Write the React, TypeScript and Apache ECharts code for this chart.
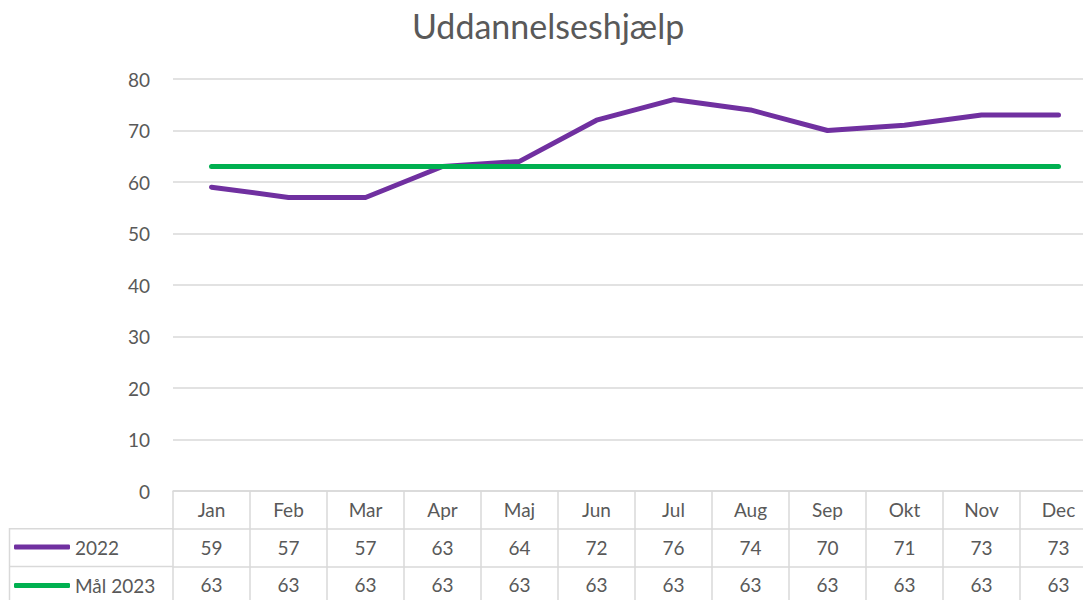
import React, { useEffect, useRef } from "react";
import * as echarts from "echarts";

const title = "Uddannelseshjælp";
const months = ["Jan", "Feb", "Mar", "Apr", "Maj", "Jun", "Jul", "Aug", "Sep", "Okt", "Nov", "Dec"];
const series2022 = [59, 57, 57, 63, 64, 72, 76, 74, 70, 71, 73, 73];
const seriesGoal = [63, 63, 63, 63, 63, 63, 63, 63, 63, 63, 63, 63];
const name2022 = "2022";
const nameGoal = "Mål 2023";

const FONT = "Lato, 'Open Sans', sans-serif";
const TXT = "#595959";
const GRID = "#d9d9d9";

export default function App() {
  const ref = useRef<HTMLDivElement>(null);
  useEffect(() => {
    if (!ref.current) return;
    const chart = echarts.init(ref.current, undefined, { renderer: "svg" });
    const rowH = 37.7;
    const label = { color: TXT, fontSize: 19, fontFamily: FONT, margin: 9 };
    chart.setOption({
      animation: false,
      textStyle: { fontFamily: FONT },
      title: {
        text: title,
        left: 407,
        top: 3,
        textStyle: { color: TXT, fontSize: 34, fontWeight: "normal", fontFamily: FONT },
      },
      legend: {
        orient: "vertical",
        left: 14,
        top: 537,
        height: 100,
        padding: 0,
        icon: "roundRect",
        itemWidth: 56,
        itemHeight: 5,
        itemGap: 18.5,
        textStyle: { color: TXT, fontSize: 19, lineHeight: 20, fontFamily: FONT, padding: [0, 0, 0, 0] },
        data: [name2022, nameGoal],
      },
      grid: { left: 173, right: 0, top: 79, height: 412 },
      xAxis: [
        {
          type: "category",
          data: months,
          position: "bottom",
          boundaryGap: true,
          axisLine: { show: true, lineStyle: { color: GRID, width: 1.5 } },
          axisTick: { show: true, length: 120, lineStyle: { color: GRID, width: 1.5 } },
          axisLabel: label,
        },
        {
          type: "category",
          data: series2022.map(String),
          position: "bottom",
          offset: rowH,
          axisLine: { show: true, lineStyle: { color: GRID, width: 1.5 } },
          axisTick: { show: false },
          axisLabel: label,
        },
        {
          type: "category",
          data: seriesGoal.map(String),
          position: "bottom",
          offset: rowH * 2,
          axisLine: { show: true, lineStyle: { color: GRID, width: 1.5 } },
          axisTick: { show: false },
          axisLabel: label,
        },
      ],
      yAxis: {
        type: "value",
        min: 0,
        max: 80,
        interval: 10,
        axisLine: { show: false },
        axisTick: { show: false },
        axisLabel: { color: TXT, fontSize: 19, fontFamily: FONT, margin: 23 },
        splitLine: { lineStyle: { color: GRID, width: 1.5 } },
      },
      graphic: [
        {
          type: "polyline",
          shape: { points: [[173, 491 + rowH], [9.5, 491 + rowH], [9.5, 620]] },
          style: { stroke: GRID, lineWidth: 1.5, fill: "none" },
          silent: true,
        },
        {
          type: "line",
          shape: { x1: 9.5, y1: 491 + rowH * 2, x2: 173, y2: 491 + rowH * 2 },
          style: { stroke: GRID, lineWidth: 1.5 },
          silent: true,
        },
      ],
      series: [
        {
          name: name2022,
          type: "line",
          xAxisIndex: 0,
          data: series2022,
          symbol: "none",
          lineStyle: { color: "#7030A0", width: 5, cap: "round", join: "round" },
          itemStyle: { color: "#7030A0" },
        },
        {
          name: nameGoal,
          type: "line",
          xAxisIndex: 0,
          data: seriesGoal,
          symbol: "none",
          lineStyle: { color: "#00B050", width: 5, cap: "round", join: "round" },
          itemStyle: { color: "#00B050" },
        },
      ],
    });
    return () => chart.dispose();
  }, []);
  return (
    <div
      ref={ref}
      style={{ position: "fixed", left: 0, top: 0, width: 1097, height: 600, background: "#fff" }}
    />
  );
}
